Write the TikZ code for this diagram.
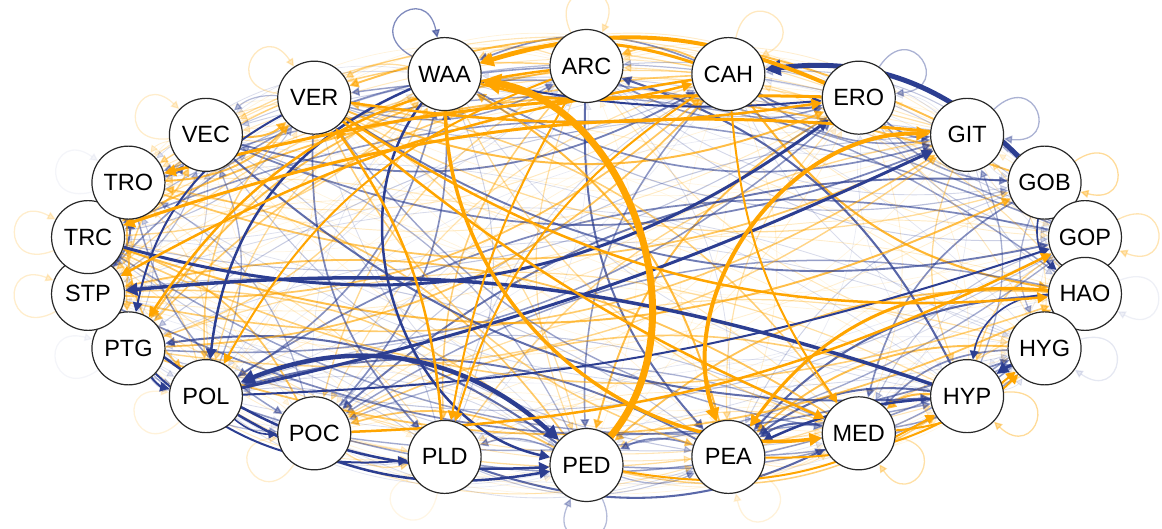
\documentclass[tikz,border=0pt]{standalone}
\usepackage{fontspec}
\setmainfont{Liberation Sans}
\usetikzlibrary{arrows.meta}
\definecolor{eb}{RGB}{44,62,145}
\definecolor{eo}{RGB}{255,165,0}
\pgfdeclarelayer{edges}
\pgfsetlayers{edges,main}
\begin{document}
\begin{tikzpicture}[x=1pt,y=1pt,
  vert/.style={circle, draw={rgb,255:red,40;green,40;blue,40}, line width=1.2pt, fill=white, minimum size=73pt, inner sep=0pt, font=\fontsize{23.5}{28}\selectfont},
  arr/.style={-{Triangle[length=5.5pt 2, width=5.5pt 2]}},
  arrb/.style={{Triangle[length=5.5pt 2, width=5.5pt 2]}-{Triangle[length=5.5pt 2, width=5.5pt 2]}}]
\useasboundingbox (0,-529) rectangle (1162,0);
% nodes on an ellipse
\foreach \k/\nm in {0/ARC,1/CAH,2/ERO,3/GIT,4/GOB,5/GOP,6/HAO,7/HYG,8/HYP,9/MED,10/PEA,11/PED,12/PLD,13/POC,14/POL,15/PTG,16/STP,17/TRC,18/TRO,19/VEC,20/VER,21/WAA}{
  \pgfmathsetmacro\ang{90-\k*360/22}
  \node[vert, alias=n\k] (\nm) at ({586.5+503.6*cos(\ang)},{-265.5+199.5*sin(\ang)}) {\nm};
}
\begin{pgfonlayer}{edges}
% background network of weaker edges
\pgfmathsetseed{4242}
\foreach \i in {0,...,21}{
  \foreach \j in {0,...,21}{
    \ifnum\i=\j\relax\else
      \pgfmathsetmacro\dd{min(abs(\i-\j),22-abs(\i-\j))}
      \pgfmathsetmacro\pp{\dd<3.5 ? 0.9 : 0.6}
      \pgfmathsetmacro\rr{rnd}
      \pgfmathsetmacro\cc{rnd}
      \pgfmathsetmacro\ss{pow(rnd,2)}
      \pgfmathsetmacro\oo{0.1+0.7*\ss}
      \pgfmathsetmacro\ww{0.7+1.4*\ss}
      \ifdim\rr pt<\pp pt
        \ifdim\cc pt<0.5pt
          \draw[eb, opacity=\oo, line width=\ww pt, arr] (n\i) to[bend right=22] (n\j);
        \else
          \draw[eo, opacity=\oo, line width=\ww pt, arr] (n\i) to[bend right=22] (n\j);
        \fi
      \fi
    \fi
  }
}
% self loops
\foreach \k/\lc/\lo in {0/eo/0.25,1/eo/0.25,2/eb/0.4,3/eb/0.4,4/eo/0.4,5/eo/0.3,6/eb/0.08,7/eb/0.12,8/eo/0.4,9/eo/0.35,10/eo/0.15,11/eb/0.35,12/eo/0.1,13/eo/0.2,14/eo/0.15,15/eb/0.05,16/eo/0.2,17/eo/0.2,18/eb/0.05,19/eo/0.2,20/eo/0.25,21/eb/0.6}{
  \pgfmathsetmacro\ang{90-\k*360/22}
  \pgfmathsetmacro\lpa{atan2(199.5*sin(\ang),503.6*cos(\ang))}
  \pgfmathsetmacro\oa{\lpa+25}
  \pgfmathsetmacro\ia{\lpa-25}
  \draw[\lc, opacity=\lo, line width=1.3pt, arr] (n\k) to[out=\oa, in=\ia, distance=58pt] (n\k);
}
% strong blue edges
\draw[eb, line width=5pt, arr] (GOB) to[bend right=26] (CAH);
\draw[eb, line width=4.5pt, arrb] (PED) to[bend right=32] (POL);
\draw[eb, line width=3.5pt, arr] (HYP) to[bend right=12] (STP);
\draw[eb, line width=3pt, arr] (TRC) to[bend right=26] (ERO);
\draw[eb, line width=3pt, arr] (POL) to[bend right=6] (GIT);
\draw[eb, line width=2.5pt, arr] (WAA) to[bend right=30] (POL);
\draw[eb, line width=2.5pt, arr] (WAA) to[bend right=58] (PED);
\draw[eb, line width=2.5pt, arr] (HYP) to[bend right=10] (PEA);
\draw[eb, line width=1.6pt, arr] (HAO) to[bend right=40] (HYP);
\draw[eb, line width=3pt, arr] (HYG) to[bend right=5] (HYP);
\draw[eb, line width=1.6pt, arr] (GOB) to[bend right=30] (HAO);
\draw[eb, line width=2pt, arr] (PTG) to[bend right=20] (POL);
\draw[eb, line width=1.6pt, arr] (POL) to[bend right=20] (POC);
\draw[eb, line width=2.5pt, arr] (STP) to[bend right=22] (PED);
\draw[eb, line width=2.5pt, arr] (POL) to[bend right=20] (PED);
\draw[eb, line width=2pt, arr] (PTG) to[bend right=24] (PLD);
\draw[eb, line width=2pt, arr] (VER) to[bend right=25] (PTG);
\draw[eb, line width=2pt, arr] (WAA) to[bend right=8] (ERO);
\draw[eb, line width=2pt, arr] (POL) to[bend right=8] (GOP);
% strong orange edges
\draw[eo, line width=7pt, arr] (PED) to[bend right=60] (WAA);
\draw[eo, line width=4pt, arr] (ERO) to[bend right=20] (WAA);
\draw[eo, line width=3pt, arr] (CAH) to[bend right=18] (WAA);
\draw[eo, line width=3.5pt, arr] (WAA) to[bend right=48] (MED);
\draw[eo, line width=4pt, arrb] (GIT) to[bend right=55] (PEA);
\draw[eo, line width=2.5pt, arr] (VER) to[bend right=19] (HAO);
\draw[eo, line width=3pt, arr] (HAO) to[bend right=30] (PEA);
\draw[eo, line width=3pt, arr] (ERO) to[bend right=8] (TRO);
\draw[eo, line width=3pt, arr] (GIT) to[bend right=12] (TRC);
\draw[eo, line width=2.5pt, arr] (CAH) to[bend right=10] (STP);
\draw[eo, line width=2.5pt, arr] (VER) to[bend right=8] (ERO);
\draw[eo, line width=2pt, arr] (ARC) to[bend right=10] (PLD);
\draw[eo, line width=2pt, arr] (CAH) to[bend right=20] (PLD);
\draw[eo, line width=2pt, arr] (ARC) to[bend right=20] (POL);
\draw[eo, line width=2.5pt, arr] (ARC) to[bend right=25] (PTG);
\draw[eo, line width=2.5pt, arr] (PLD) to[bend right=15] (VER);
\draw[eo, line width=2.5pt, arr] (VER) to[bend right=8] (MED);
\draw[eo, line width=2.5pt, arr] (POC) to[bend right=12] (GOP);
\draw[eo, line width=2.5pt, arr] (WAA) to[bend right=15] (CAH);
\draw[eo, line width=2pt, arr] (CAH) to[bend right=15] (MED);
\draw[eo, line width=2pt, arr] (PEA) to[bend right=20] (HYG);
\draw[eo, line width=2pt, arr] (MED) to[bend right=20] (HYG);
\draw[eo, line width=2pt, arr] (PED) to[bend right=20] (HYP);
\end{pgfonlayer}
\end{tikzpicture}
\end{document}
